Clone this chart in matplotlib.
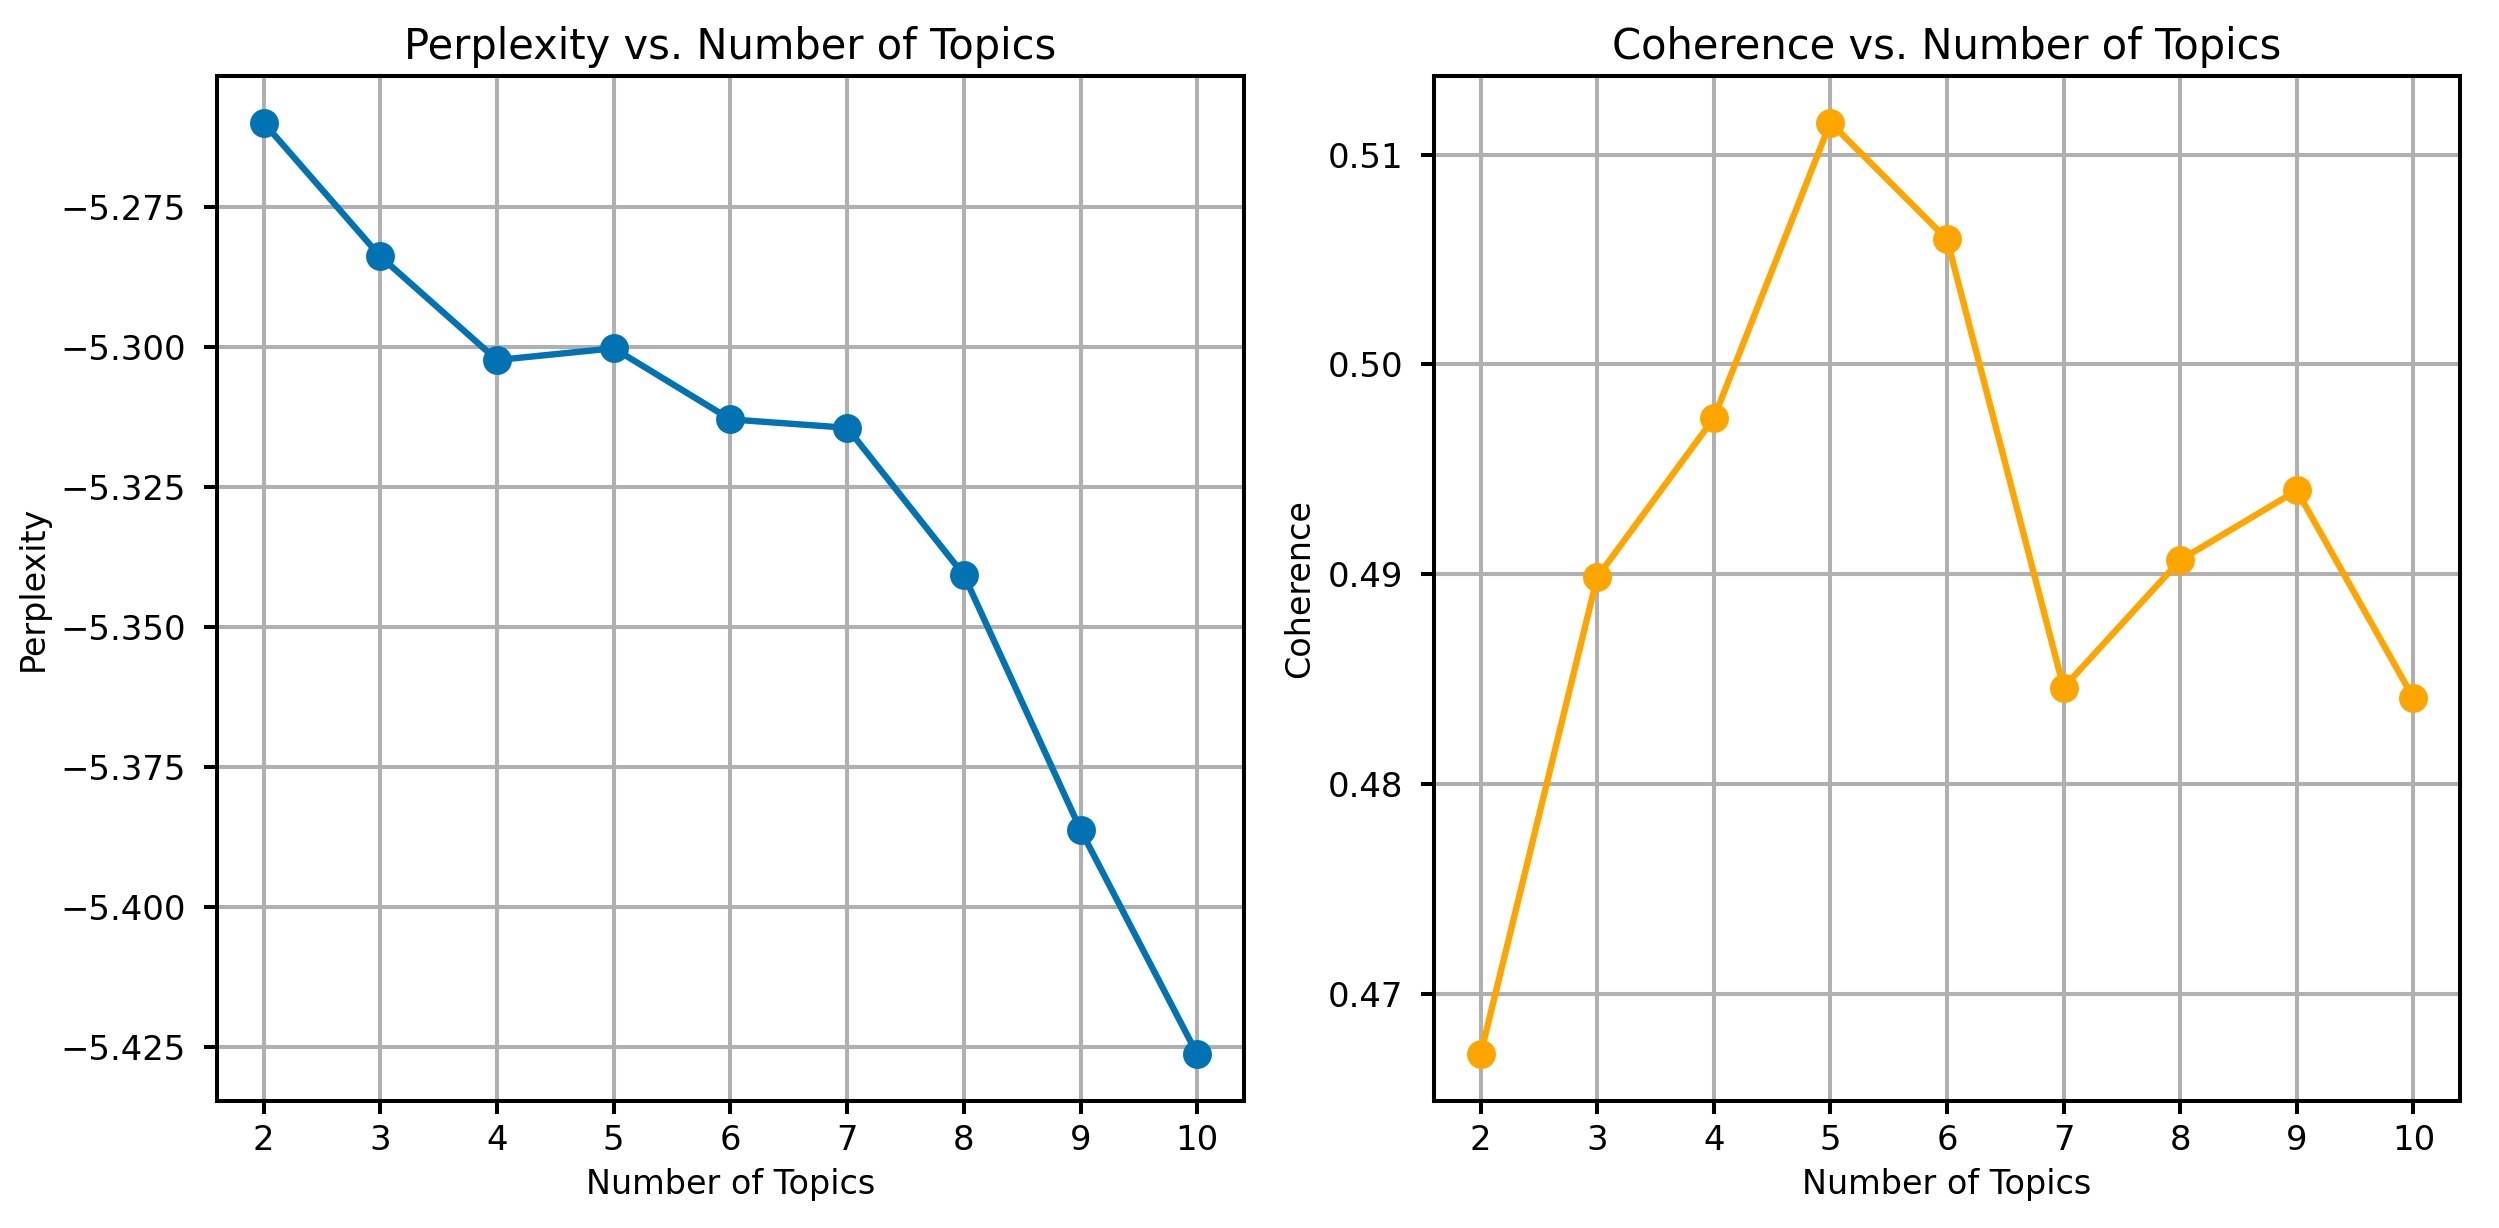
import matplotlib
matplotlib.use("Agg")
import matplotlib.pyplot as plt

# number of topics tried
topics = [2, 3, 4, 5, 6, 7, 8, 9, 10]

# log perplexity per model
perplexity = [-5.2600, -5.2839, -5.3024, -5.3003, -5.3130, -5.3145, -5.3408, -5.3863, -5.4264]

# coherence score per model
coherence = [0.4671, 0.48985, 0.49743, 0.51153, 0.50597, 0.48459, 0.49067, 0.49399, 0.48410]

plt.rcParams['font.size'] = 12
plt.rcParams['axes.titlesize'] = 15
plt.rcParams['xtick.labelsize'] = 12.2
plt.rcParams['ytick.labelsize'] = 12.2
plt.rcParams['axes.linewidth'] = 1.45
plt.rcParams['grid.linewidth'] = 1.45
plt.rcParams['xtick.major.width'] = 1.45
plt.rcParams['ytick.major.width'] = 1.45
plt.rcParams['xtick.major.size'] = 4.6
plt.rcParams['ytick.major.size'] = 4.6
plt.rcParams['ytick.major.pad'] = 6.5

fig = plt.figure(figsize=(12.495, 6.14), dpi=200)
ax1 = fig.add_axes([0.0868, 0.1034, 0.411, 0.8347])
ax2 = fig.add_axes([0.5738, 0.1034, 0.4106, 0.8347])

ax1.plot(topics, perplexity, marker='o', color='#0173b2', linewidth=2.3, markersize=9.4)
ax1.set_title('Perplexity vs. Number of Topics')
ax1.set_xlabel('Number of Topics')
ax1.set_ylabel('Perplexity')
ax1.set_xticks(topics)
ax1.grid(True)

ax2.plot(topics, coherence, marker='o', color='orange', linewidth=2.3, markersize=9.4)
ax2.set_title('Coherence vs. Number of Topics')
ax2.set_xlabel('Number of Topics')
ax2.set_ylabel('Coherence')
ax2.set_xticks(topics)
ax2.grid(True)

fig.savefig('out.png', dpi=200)
